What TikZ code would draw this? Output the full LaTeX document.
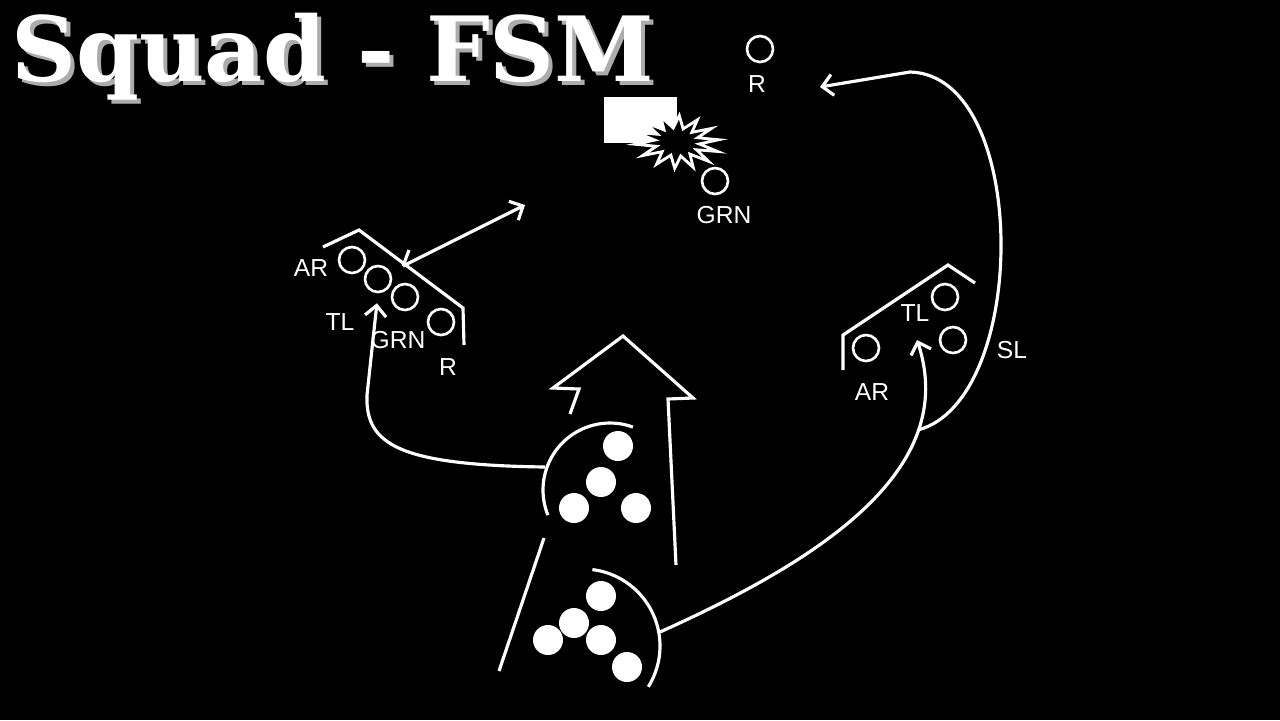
\documentclass[tikz,border=0pt]{standalone}
\usepackage{fontspec}
\setmainfont{Liberation Sans}
\newfontfamily\titlefont{DejaVu Serif}
\usetikzlibrary{arrows.meta,shapes.geometric}

\begin{document}
\begin{tikzpicture}[
  x=0.1mm, y=-0.1mm,
  man/.style={
    circle, draw=white, line width=0.75pt,
    inner sep=0pt, minimum size=2.6mm
  },
  dot/.style={
    circle, fill=white,
    inner sep=0pt, minimum size=3mm
  },
  lbl/.style={text=white, inner sep=0pt, font=\fontsize{7}{8}\selectfont},
  wall/.style={draw=white, line width=0.9pt, line join=miter},
  route/.style={
    draw=white, line width=0.9pt,
    -{Straight Barb[length=3pt,width=6pt]}
  }
]
  \fill[black] (0,0) rectangle (1280,720);
  \useasboundingbox (0,0) rectangle (1280,720);
  % title
  \node[anchor=base west, inner sep=0pt, text=gray!65,
    font=\titlefont\bfseries\fontsize{25.6}{30}\selectfont] (titleshadow) at (15,85) {Squad - FSM};
  \node[anchor=base west, inner sep=0pt, text=white,
    font=\titlefont\bfseries\fontsize{25.6}{30}\selectfont] (title) at (11,81) {Squad - FSM};
  % enemy bunker
  \node[rectangle, fill=white, minimum width=7.3mm, minimum height=4.6mm,
    inner sep=0pt] (bunker) at (640.5,120) {};
  \node[star, star points=14, star point ratio=1.9, draw=white, fill=black,
    line width=0.8pt, minimum size=5.3mm, inner sep=0pt,
    rotate=-5, xscale=1.6, transform shape] (blast) at (677,142) {};
  \node[man] (rTop) at (760,49) {};
  \node[lbl] at (757,84) {R};
  \node[man] (grnTop) at (715,181) {};
  \node[lbl] at (724,215) {GRN};
  % left team
  \draw[wall] (323,247) -- (359,230) -- (463,308) -- (464,345);
  \foreach \name/\x/\y in {arL/352/260, tlL/378/279, grnL/405/297, rL/441/322} {
    \node[man] (\name) at (\x,\y) {};
  }
  \node[lbl] at (311,268) {AR};
  \node[lbl] at (340,322) {TL};
  \node[lbl] at (398,340) {GRN};
  \node[lbl] at (448,367) {R};
  \coordinate (wallL) at (403,266);
  \coordinate (aimL) at (525,205);
  \draw[route] (wallL) -- (aimL);
  \draw[wall] (wallL) -- (409,250);
  % right team
  \draw[wall] (843,370) -- (843,335) -- (948,265) -- (975,283);
  \foreach \name/\x/\y in {tlR/945/297, slR/953/340, arR/866/348} {
    \node[man] (\name) at (\x,\y) {};
  }
  \node[lbl] at (915,313) {TL};
  \node[lbl] at (1012,350) {SL};
  \node[lbl] at (872,392) {AR};
  % advance arrow
  \draw[wall] (570,414) -- (579,389) -- (553,388) -- (623,336)
    -- (693,398) -- (668,399) -- (676,565);
  % upper group
  \foreach \name/\x/\y in {u1/618/446, u2/601/482, u3/574/508, u4/636/508} {
    \node[dot] (\name) at (\x,\y) {};
  }
  \draw[wall] plot[domain=70:202, samples=40] ({610+67*cos(\x)}, {490-67*sin(\x)});
  % lower group
  \foreach \name/\x/\y in {d1/601/596, d2/574/623, d3/548/640, d4/601/640, d5/627/667} {
    \node[dot] (\name) at (\x,\y) {};
  }
  \draw[wall] plot[domain=83:-32, samples=40] ({583+77*cos(\x)}, {646-77*sin(\x)});
  \draw[wall] (544,538) -- (499,671);
  % movement
  \coordinate (upL) at (545,467);
  \coordinate (lowR) at (660,632);
  \coordinate (tipR) at (917,340);
  \coordinate (fork) at (918,430);
  \coordinate (tipTop) at (820,87);
  \draw[route, shorten >=1mm] (upL) .. controls (400,465) and (365,445) .. (367,395) -- (tlL.south);
  \draw[route] (lowR) .. controls (820,560) and (960,470) .. (tipR);
  \draw[route] (fork) .. controls (1030,400) and (1030,75) .. (910,72) -- (tipTop);
\end{tikzpicture}
\end{document}
